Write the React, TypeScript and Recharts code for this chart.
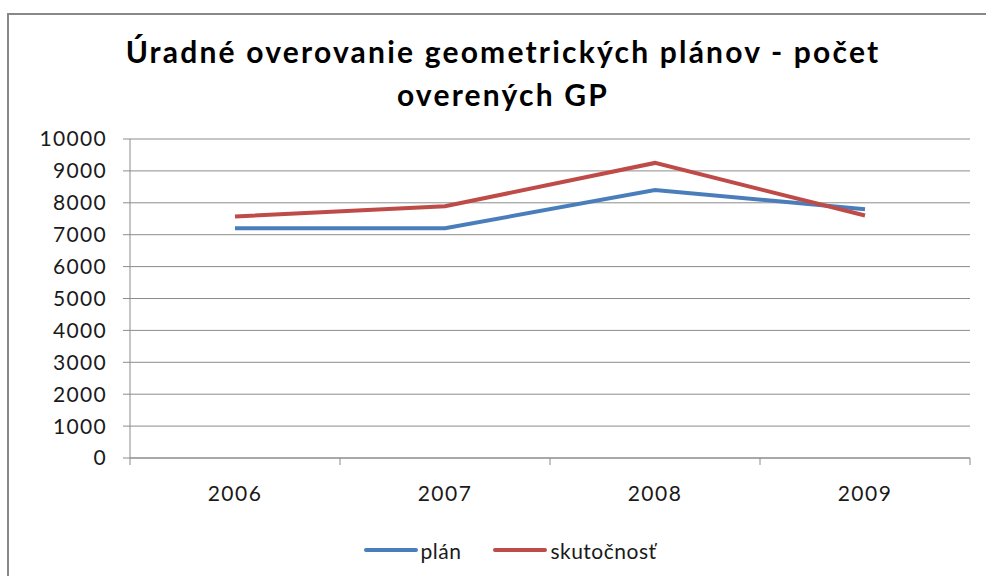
import { LineChart, Line, XAxis, YAxis, CartesianGrid, Legend } from "recharts";

const years = ["2006", "2007", "2008", "2009"];
const plan = [7200, 7200, 8400, 7800];
const actual = [7570, 7890, 9250, 7600];
const yTicks = [0, 1000, 2000, 3000, 4000, 5000, 6000, 7000, 8000, 9000, 10000];

const data = years.map((year, i) => ({ year, plan: plan[i], actual: actual[i] }));

const FONT = "Lato, 'Open Sans', sans-serif";
const GRID = "#8c8c8c";
const BLUE = "#4a7ebb";
const RED = "#be4b48";

const W = 986;
const H = 576;
const PLOT_LEFT = 130;
const PLOT_RIGHT = 970;
const BAND = (PLOT_RIGHT - PLOT_LEFT) / years.length;

function YearTick(props: any) {
  const { x, y, payload, index } = props;
  const last = index === years.length - 1;
  return (
    <g>
      <line x1={x - BAND / 2} x2={x - BAND / 2} y1={y} y2={y + 7} stroke={GRID} />
      {last && <line x1={x + BAND / 2} x2={x + BAND / 2} y1={y} y2={y + 7} stroke={GRID} />}
      <text
        x={x}
        y={y + 43}
        textAnchor="middle"
        fill="#1a1a1a"
        fontSize={21}
        fontFamily={FONT}
        letterSpacing={1.5}
      >
        {payload.value}
      </text>
    </g>
  );
}

function LegendContent(props: any) {
  const { payload } = props;
  return (
    <div style={{ display: "flex", justifyContent: "center", alignItems: "center", height: 36, gap: 32, paddingRight: 10 }}>
      {payload.map((p: any) => (
        <div key={p.value} style={{ display: "flex", alignItems: "center" }}>
          <span style={{ display: "inline-block", width: 54, height: 4, background: p.color, borderRadius: 2 }} />
          <span style={{ fontFamily: FONT, fontSize: 21, letterSpacing: 0.5, color: "#1a1a1a", marginLeft: 3 }}>
            {p.value}
          </span>
        </div>
      ))}
    </div>
  );
}

export default function App() {
  return (
    <div style={{ position: "fixed", left: 0, top: 0, width: W, height: H, overflow: "hidden", background: "#fff" }}>
      <div
        style={{
          position: "absolute",
          left: 7,
          top: 13,
          width: 1000,
          height: 700,
          border: "2px solid #888",
        }}
      />
      <div
        style={{
          position: "absolute",
          left: 0,
          top: 30,
          width: 1006,
          textAlign: "center",
          fontFamily: FONT,
          fontWeight: 700,
          fontSize: 30,
          letterSpacing: 2.2,
          lineHeight: "43px",
          color: "#000",
        }}
      >
        Úradné overovanie geometrických plánov - počet
        <br />
        overených GP
      </div>
      <div style={{ position: "absolute", left: 0, top: 0 }}>
        <LineChart width={W} height={H} data={data} margin={{ top: 139, right: W - PLOT_RIGHT, left: 60, bottom: 8 }}>
          <CartesianGrid vertical={false} stroke={GRID} />
          <XAxis
            dataKey="year"
            scale="band"
            stroke={GRID}
            tickLine={false}
            tickSize={0}
            tickMargin={0}
            height={74}
            tick={<YearTick />}
            interval={0}
          />
          <YAxis
            domain={[0, 10000]}
            ticks={yTicks}
            interval={0}
            width={70}
            stroke={GRID}
            tickSize={7}
            tickMargin={16}
            tick={{ fill: "#1a1a1a", fontSize: 21, fontFamily: FONT, letterSpacing: 1.3 }}
          />
          <Legend verticalAlign="bottom" content={<LegendContent />} />
          <Line dataKey="plan" name="plán" stroke={BLUE} strokeWidth={4} dot={false} isAnimationActive={false} />
          <Line dataKey="actual" name="skutočnosť" stroke={RED} strokeWidth={4} dot={false} isAnimationActive={false} />
        </LineChart>
      </div>
    </div>
  );
}
